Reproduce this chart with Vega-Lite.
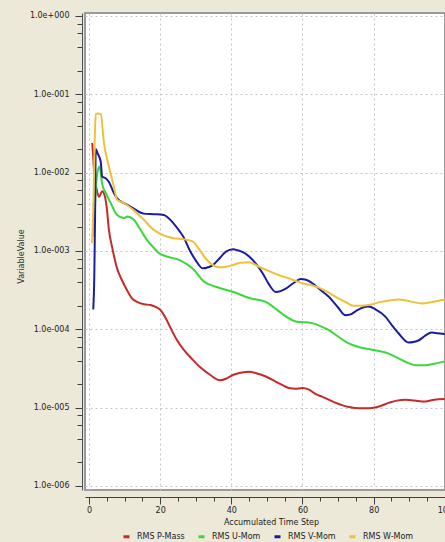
{
  "$schema": "https://vega.github.io/schema/vega-lite/v6.json",
  "width": 360,
  "height": 477,
  "autosize": {"type": "none"},
  "padding": {"left": 85, "top": 13, "right": 0, "bottom": 52},
  "background": "#ece9d8",
  "config": {
    "view": {"stroke": "#9a9a9a", "strokeWidth": 2, "fill": "white"},
    "font": "DejaVu Sans"
  },
  "data": {
    "values": [
      {"s": "RMS P-Mass", "x": 0.9, "y": 0.024},
      {"s": "RMS P-Mass", "x": 1.2, "y": 0.0158},
      {"s": "RMS P-Mass", "x": 1.6, "y": 0.0079},
      {"s": "RMS P-Mass", "x": 2.0, "y": 0.0066},
      {"s": "RMS P-Mass", "x": 2.8, "y": 0.0049},
      {"s": "RMS P-Mass", "x": 3.7, "y": 0.0058},
      {"s": "RMS P-Mass", "x": 4.4, "y": 0.0051},
      {"s": "RMS P-Mass", "x": 5.0, "y": 0.00355},
      {"s": "RMS P-Mass", "x": 5.6, "y": 0.00186},
      {"s": "RMS P-Mass", "x": 6.5, "y": 0.00112},
      {"s": "RMS P-Mass", "x": 7.9, "y": 0.0006},
      {"s": "RMS P-Mass", "x": 9.3, "y": 0.00042},
      {"s": "RMS P-Mass", "x": 10.7, "y": 0.000316},
      {"s": "RMS P-Mass", "x": 12.0, "y": 0.000251},
      {"s": "RMS P-Mass", "x": 13.5, "y": 0.000224},
      {"s": "RMS P-Mass", "x": 15.5, "y": 0.000209},
      {"s": "RMS P-Mass", "x": 17.3, "y": 0.000204},
      {"s": "RMS P-Mass", "x": 19.0, "y": 0.00019},
      {"s": "RMS P-Mass", "x": 20.0, "y": 0.000178},
      {"s": "RMS P-Mass", "x": 21.5, "y": 0.000141},
      {"s": "RMS P-Mass", "x": 22.8, "y": 0.000107},
      {"s": "RMS P-Mass", "x": 24.5, "y": 0.000076},
      {"s": "RMS P-Mass", "x": 26.6, "y": 0.000055},
      {"s": "RMS P-Mass", "x": 29.0, "y": 0.0000417},
      {"s": "RMS P-Mass", "x": 31.2, "y": 0.000033},
      {"s": "RMS P-Mass", "x": 34.0, "y": 0.0000263},
      {"s": "RMS P-Mass", "x": 36.8, "y": 0.0000224},
      {"s": "RMS P-Mass", "x": 38.5, "y": 0.0000234},
      {"s": "RMS P-Mass", "x": 40.6, "y": 0.0000263},
      {"s": "RMS P-Mass", "x": 43.0, "y": 0.0000282},
      {"s": "RMS P-Mass", "x": 45.0, "y": 0.0000288},
      {"s": "RMS P-Mass", "x": 47.0, "y": 0.0000275},
      {"s": "RMS P-Mass", "x": 49.7, "y": 0.000025},
      {"s": "RMS P-Mass", "x": 53.0, "y": 0.0000209},
      {"s": "RMS P-Mass", "x": 56.2, "y": 0.0000178},
      {"s": "RMS P-Mass", "x": 58.0, "y": 0.0000174},
      {"s": "RMS P-Mass", "x": 60.0, "y": 0.0000178},
      {"s": "RMS P-Mass", "x": 61.8, "y": 0.000017},
      {"s": "RMS P-Mass", "x": 63.5, "y": 0.0000151},
      {"s": "RMS P-Mass", "x": 65.5, "y": 0.0000138},
      {"s": "RMS P-Mass", "x": 69.0, "y": 0.0000117},
      {"s": "RMS P-Mass", "x": 73.0, "y": 0.0000102},
      {"s": "RMS P-Mass", "x": 76.0, "y": 0.0000098},
      {"s": "RMS P-Mass", "x": 78.6, "y": 0.0000098},
      {"s": "RMS P-Mass", "x": 81.0, "y": 0.0000102},
      {"s": "RMS P-Mass", "x": 84.2, "y": 0.0000115},
      {"s": "RMS P-Mass", "x": 86.5, "y": 0.0000123},
      {"s": "RMS P-Mass", "x": 88.9, "y": 0.0000126},
      {"s": "RMS P-Mass", "x": 91.5, "y": 0.0000123},
      {"s": "RMS P-Mass", "x": 94.5, "y": 0.000012},
      {"s": "RMS P-Mass", "x": 97.0, "y": 0.0000126},
      {"s": "RMS P-Mass", "x": 100.0, "y": 0.0000129},

      {"s": "RMS U-Mom", "x": 1.0, "y": 0.0015},
      {"s": "RMS U-Mom", "x": 1.5, "y": 0.0025},
      {"s": "RMS U-Mom", "x": 2.0, "y": 0.007},
      {"s": "RMS U-Mom", "x": 2.6, "y": 0.0112},
      {"s": "RMS U-Mom", "x": 3.0, "y": 0.012},
      {"s": "RMS U-Mom", "x": 3.7, "y": 0.0072},
      {"s": "RMS U-Mom", "x": 4.7, "y": 0.0055},
      {"s": "RMS U-Mom", "x": 6.1, "y": 0.0041},
      {"s": "RMS U-Mom", "x": 7.9, "y": 0.00288},
      {"s": "RMS U-Mom", "x": 9.8, "y": 0.00263},
      {"s": "RMS U-Mom", "x": 10.7, "y": 0.00275},
      {"s": "RMS U-Mom", "x": 12.6, "y": 0.00251},
      {"s": "RMS U-Mom", "x": 14.5, "y": 0.00186},
      {"s": "RMS U-Mom", "x": 16.3, "y": 0.00138},
      {"s": "RMS U-Mom", "x": 18.2, "y": 0.0011},
      {"s": "RMS U-Mom", "x": 19.5, "y": 0.00095},
      {"s": "RMS U-Mom", "x": 21.9, "y": 0.00085},
      {"s": "RMS U-Mom", "x": 25.6, "y": 0.00076},
      {"s": "RMS U-Mom", "x": 27.5, "y": 0.00068},
      {"s": "RMS U-Mom", "x": 29.4, "y": 0.00058},
      {"s": "RMS U-Mom", "x": 32.2, "y": 0.00041},
      {"s": "RMS U-Mom", "x": 35.9, "y": 0.000347},
      {"s": "RMS U-Mom", "x": 40.6, "y": 0.0003},
      {"s": "RMS U-Mom", "x": 45.0, "y": 0.000251},
      {"s": "RMS U-Mom", "x": 49.7, "y": 0.000224},
      {"s": "RMS U-Mom", "x": 52.0, "y": 0.00019},
      {"s": "RMS U-Mom", "x": 54.3, "y": 0.000158},
      {"s": "RMS U-Mom", "x": 58.1, "y": 0.000126},
      {"s": "RMS U-Mom", "x": 62.7, "y": 0.00012},
      {"s": "RMS U-Mom", "x": 65.0, "y": 0.00011},
      {"s": "RMS U-Mom", "x": 67.4, "y": 0.000098},
      {"s": "RMS U-Mom", "x": 70.0, "y": 0.000081},
      {"s": "RMS U-Mom", "x": 73.0, "y": 0.000066},
      {"s": "RMS U-Mom", "x": 76.0, "y": 0.000059},
      {"s": "RMS U-Mom", "x": 79.5, "y": 0.000055},
      {"s": "RMS U-Mom", "x": 84.2, "y": 0.000049},
      {"s": "RMS U-Mom", "x": 87.0, "y": 0.0000427},
      {"s": "RMS U-Mom", "x": 89.8, "y": 0.000037},
      {"s": "RMS U-Mom", "x": 92.0, "y": 0.0000347},
      {"s": "RMS U-Mom", "x": 94.5, "y": 0.0000347},
      {"s": "RMS U-Mom", "x": 97.0, "y": 0.0000363},
      {"s": "RMS U-Mom", "x": 100.0, "y": 0.000039},

      {"s": "RMS V-Mom", "x": 1.2, "y": 0.00018},
      {"s": "RMS V-Mom", "x": 1.5, "y": 0.0005},
      {"s": "RMS V-Mom", "x": 1.7, "y": 0.0025},
      {"s": "RMS V-Mom", "x": 1.9, "y": 0.02},
      {"s": "RMS V-Mom", "x": 2.4, "y": 0.0178},
      {"s": "RMS V-Mom", "x": 3.3, "y": 0.0138},
      {"s": "RMS V-Mom", "x": 3.7, "y": 0.0089},
      {"s": "RMS V-Mom", "x": 4.7, "y": 0.0085},
      {"s": "RMS V-Mom", "x": 5.6, "y": 0.0076},
      {"s": "RMS V-Mom", "x": 7.0, "y": 0.0055},
      {"s": "RMS V-Mom", "x": 7.9, "y": 0.0047},
      {"s": "RMS V-Mom", "x": 10.7, "y": 0.0039},
      {"s": "RMS V-Mom", "x": 12.6, "y": 0.00347},
      {"s": "RMS V-Mom", "x": 15.4, "y": 0.003},
      {"s": "RMS V-Mom", "x": 18.2, "y": 0.00295},
      {"s": "RMS V-Mom", "x": 21.0, "y": 0.00288},
      {"s": "RMS V-Mom", "x": 23.8, "y": 0.00224},
      {"s": "RMS V-Mom", "x": 25.5, "y": 0.00178},
      {"s": "RMS V-Mom", "x": 26.6, "y": 0.0015},
      {"s": "RMS V-Mom", "x": 28.3, "y": 0.00102},
      {"s": "RMS V-Mom", "x": 30.0, "y": 0.00076},
      {"s": "RMS V-Mom", "x": 32.0, "y": 0.0006},
      {"s": "RMS V-Mom", "x": 33.5, "y": 0.00062},
      {"s": "RMS V-Mom", "x": 34.8, "y": 0.00066},
      {"s": "RMS V-Mom", "x": 36.5, "y": 0.00079},
      {"s": "RMS V-Mom", "x": 38.5, "y": 0.00098},
      {"s": "RMS V-Mom", "x": 40.5, "y": 0.00105},
      {"s": "RMS V-Mom", "x": 41.8, "y": 0.00102},
      {"s": "RMS V-Mom", "x": 43.5, "y": 0.00095},
      {"s": "RMS V-Mom", "x": 45.0, "y": 0.00085},
      {"s": "RMS V-Mom", "x": 47.0, "y": 0.00068},
      {"s": "RMS V-Mom", "x": 48.8, "y": 0.00052},
      {"s": "RMS V-Mom", "x": 50.5, "y": 0.00038},
      {"s": "RMS V-Mom", "x": 52.5, "y": 0.0003},
      {"s": "RMS V-Mom", "x": 54.0, "y": 0.00031},
      {"s": "RMS V-Mom", "x": 55.3, "y": 0.00033},
      {"s": "RMS V-Mom", "x": 57.5, "y": 0.00039},
      {"s": "RMS V-Mom", "x": 59.5, "y": 0.00044},
      {"s": "RMS V-Mom", "x": 61.0, "y": 0.00043},
      {"s": "RMS V-Mom", "x": 62.7, "y": 0.00039},
      {"s": "RMS V-Mom", "x": 65.0, "y": 0.00032},
      {"s": "RMS V-Mom", "x": 67.4, "y": 0.00026},
      {"s": "RMS V-Mom", "x": 70.0, "y": 0.00019},
      {"s": "RMS V-Mom", "x": 72.1, "y": 0.000151},
      {"s": "RMS V-Mom", "x": 73.5, "y": 0.000155},
      {"s": "RMS V-Mom", "x": 74.9, "y": 0.00017},
      {"s": "RMS V-Mom", "x": 77.0, "y": 0.00019},
      {"s": "RMS V-Mom", "x": 78.6, "y": 0.000195},
      {"s": "RMS V-Mom", "x": 80.5, "y": 0.00018},
      {"s": "RMS V-Mom", "x": 83.3, "y": 0.000145},
      {"s": "RMS V-Mom", "x": 85.0, "y": 0.000115},
      {"s": "RMS V-Mom", "x": 87.0, "y": 0.000089},
      {"s": "RMS V-Mom", "x": 89.8, "y": 0.000068},
      {"s": "RMS V-Mom", "x": 91.2, "y": 0.000069},
      {"s": "RMS V-Mom", "x": 92.6, "y": 0.000072},
      {"s": "RMS V-Mom", "x": 94.5, "y": 0.000083},
      {"s": "RMS V-Mom", "x": 96.3, "y": 0.000091},
      {"s": "RMS V-Mom", "x": 98.0, "y": 0.000089},
      {"s": "RMS V-Mom", "x": 100.0, "y": 0.000087},

      {"s": "RMS W-Mom", "x": 0.9, "y": 0.00126},
      {"s": "RMS W-Mom", "x": 1.3, "y": 0.005},
      {"s": "RMS W-Mom", "x": 1.6, "y": 0.025},
      {"s": "RMS W-Mom", "x": 1.9, "y": 0.056},
      {"s": "RMS W-Mom", "x": 2.5, "y": 0.057},
      {"s": "RMS W-Mom", "x": 3.3, "y": 0.056},
      {"s": "RMS W-Mom", "x": 4.2, "y": 0.024},
      {"s": "RMS W-Mom", "x": 5.6, "y": 0.012},
      {"s": "RMS W-Mom", "x": 7.0, "y": 0.0066},
      {"s": "RMS W-Mom", "x": 7.9, "y": 0.0045},
      {"s": "RMS W-Mom", "x": 9.8, "y": 0.0041},
      {"s": "RMS W-Mom", "x": 12.6, "y": 0.0033},
      {"s": "RMS W-Mom", "x": 15.4, "y": 0.0025},
      {"s": "RMS W-Mom", "x": 18.2, "y": 0.00186},
      {"s": "RMS W-Mom", "x": 21.0, "y": 0.00158},
      {"s": "RMS W-Mom", "x": 23.8, "y": 0.00145},
      {"s": "RMS W-Mom", "x": 26.6, "y": 0.00141},
      {"s": "RMS W-Mom", "x": 29.2, "y": 0.00132},
      {"s": "RMS W-Mom", "x": 31.0, "y": 0.00105},
      {"s": "RMS W-Mom", "x": 32.9, "y": 0.00079},
      {"s": "RMS W-Mom", "x": 34.8, "y": 0.00066},
      {"s": "RMS W-Mom", "x": 36.6, "y": 0.00062},
      {"s": "RMS W-Mom", "x": 38.5, "y": 0.00063},
      {"s": "RMS W-Mom", "x": 40.4, "y": 0.00066},
      {"s": "RMS W-Mom", "x": 42.5, "y": 0.00071},
      {"s": "RMS W-Mom", "x": 45.0, "y": 0.00072},
      {"s": "RMS W-Mom", "x": 47.8, "y": 0.00063},
      {"s": "RMS W-Mom", "x": 50.8, "y": 0.00055},
      {"s": "RMS W-Mom", "x": 53.4, "y": 0.00049},
      {"s": "RMS W-Mom", "x": 56.0, "y": 0.00045},
      {"s": "RMS W-Mom", "x": 59.0, "y": 0.0004},
      {"s": "RMS W-Mom", "x": 62.0, "y": 0.00037},
      {"s": "RMS W-Mom", "x": 64.6, "y": 0.00034},
      {"s": "RMS W-Mom", "x": 67.0, "y": 0.0003},
      {"s": "RMS W-Mom", "x": 69.3, "y": 0.00026},
      {"s": "RMS W-Mom", "x": 72.0, "y": 0.000224},
      {"s": "RMS W-Mom", "x": 74.4, "y": 0.0002},
      {"s": "RMS W-Mom", "x": 76.5, "y": 0.0002},
      {"s": "RMS W-Mom", "x": 78.6, "y": 0.000204},
      {"s": "RMS W-Mom", "x": 82.0, "y": 0.000224},
      {"s": "RMS W-Mom", "x": 84.5, "y": 0.000234},
      {"s": "RMS W-Mom", "x": 87.0, "y": 0.00024},
      {"s": "RMS W-Mom", "x": 90.0, "y": 0.000229},
      {"s": "RMS W-Mom", "x": 93.5, "y": 0.000214},
      {"s": "RMS W-Mom", "x": 96.5, "y": 0.000224},
      {"s": "RMS W-Mom", "x": 100.0, "y": 0.00024}
    ]
  },
  "mark": {"type": "line", "strokeWidth": 2, "interpolate": "monotone", "clip": true},
  "encoding": {
    "x": {
      "field": "x",
      "type": "quantitative",
      "scale": {"domain": [-1.12, 100.05], "nice": false, "zero": false},
      "axis": {
        "title": "Accumulated Time Step",
        "values": [0, 5, 10, 15, 20, 25, 30, 35, 40, 45, 50, 55, 60, 65, 70, 75, 80, 85, 90, 95, 100],
        "labelExpr": "datum.value % 20 === 0 ? datum.label : ''",
        "labelFlush": false,
        "labelOverlap": false,
        "labelFont": "DejaVu Sans",
        "labelFontSize": 8,
        "labelColor": "#222222",
        "labelPadding": 2,
        "offset": 7,
        "tickSize": {"condition": {"test": "datum.value % 20 === 0", "value": 7}, "value": 4},
        "tickColor": "#404040",
        "domainColor": "#404040",
        "grid": true,
        "gridDash": [2, 3],
        "gridColor": "#c4c4c4",
        "gridOpacity": {"condition": {"test": "datum.value % 20 === 0", "value": 1}, "value": 0},
        "titleFont": "DejaVu Sans",
        "titleFontSize": 8,
        "titleFontWeight": "normal",
        "titleColor": "#222222",
        "titleX": 186,
        "titleY": 21,
        "titleBaseline": "top"
      }
    },
    "y": {
      "field": "y",
      "type": "quantitative",
      "scale": {"type": "log", "domain": [0.000000889, 1.092], "nice": false},
      "axis": {
        "title": "VariableValue",
        "values": [0.000001, 0.000002, 0.000004, 0.000006, 0.000008, 0.00001, 0.00002, 0.00004, 0.00006, 0.00008, 0.0001, 0.0002, 0.0004, 0.0006, 0.0008, 0.001, 0.002, 0.004, 0.006, 0.008, 0.01, 0.02, 0.04, 0.06, 0.08, 0.1, 0.2, 0.4, 0.6, 0.8, 1],
        "labelExpr": "abs(log(datum.value)/LN10 - round(log(datum.value)/LN10)) < 0.001 ? '1.0e' + (round(log(datum.value)/LN10) < 0 ? '-' : '+') + pad(toString(abs(round(log(datum.value)/LN10))), 3, '0', 'left') : ''",
        "labelOverlap": false,
        "labelFont": "DejaVu Sans",
        "labelFontSize": 8,
        "labelColor": "#222222",
        "labelPadding": 6,
        "offset": 3,
        "tickSize": {"condition": {"test": "abs(log(datum.value)/LN10 - round(log(datum.value)/LN10)) < 0.001", "value": 7}, "value": 5},
        "tickColor": "#404040",
        "domainColor": "#505050",
        "grid": true,
        "gridDash": [2, 3],
        "gridColor": "#c4c4c4",
        "gridOpacity": {"condition": {"test": "abs(log(datum.value)/LN10 - round(log(datum.value)/LN10)) < 0.001", "value": 1}, "value": 0},
        "titleFont": "DejaVu Sans",
        "titleFontSize": 8,
        "titleFontWeight": "normal",
        "titleColor": "#333333",
        "titleX": -57,
        "titleY": 243,
        "titleAngle": 270,
        "titleAlign": "center",
        "titleBaseline": "bottom"
      }
    },
    "color": {
      "field": "s",
      "type": "nominal",
      "scale": {
        "domain": ["RMS P-Mass", "RMS U-Mom", "RMS V-Mom", "RMS W-Mom"],
        "range": ["#c62a2a", "#3ad83a", "#1c1ca2", "#eec236"]
      },
      "legend": {
        "title": null,
        "orient": "none",
        "direction": "horizontal",
        "legendX": 37,
        "legendY": 519,
        "symbolType": "stroke",
        "symbolSize": 36,
        "symbolStrokeWidth": 3,
        "labelFont": "DejaVu Sans",
        "labelFontSize": 8,
        "labelColor": "#222222",
        "labelOffset": 6,
        "columnPadding": 7
      }
    }
  }
}
